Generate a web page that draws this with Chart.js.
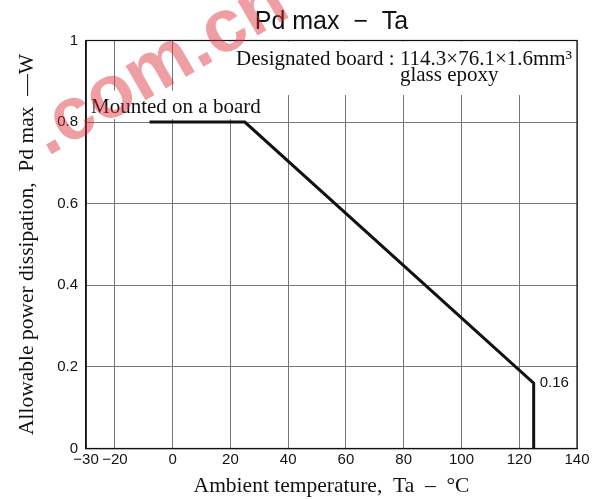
<!DOCTYPE html>
<html>
<head>
<meta charset="utf-8">
<script src="https://cdn.jsdelivr.net/npm/chart.js@4.4.0/dist/chart.umd.min.js"></script>
<style>
html, body { margin: 0; padding: 0; background: #fff; }
</style>
</head>
<body>
<canvas id="chartPd" width="604" height="499"></canvas>
<script>
// derating curve
var temps = [-8, 25, 125, 125];
var powerMax = [0.8, 0.8, 0.16, 0];
var xTicks = [-30, -20, 0, 20, 40, 60, 80, 100, 120, 140];
var yTicks = [0, 0.2, 0.4, 0.6, 0.8, 1];
var endLabel = '0.16';

var titleText = 'Pd max  \u2212  Ta';
var xTitle = 'Ambient temperature,  Ta  \u2013  \u00b0C';
var yTitle = 'Allowable power dissipation,  Pd max  \u2014W';
var boardText = 'Designated board : 114.3\u00d776.1\u00d71.6mm\u00b3';
var boardDims = '114.3\u00d776.1\u00d71.6mm\u00b3';
var boardMat = 'glass epoxy';
var mountText = 'Mounted on a board';
var markText = '.com.cn';

var sans = "'Liberation Sans', Arial, sans-serif";
var serif = "'Liberation Serif', 'Times New Roman', serif";

var notes = {
    id: 'notes',
    beforeDatasetsDraw: function(chart) {
        var ctx = chart.ctx;
        var a = chart.chartArea;
        var ys = chart.scales.y;
        var y08 = ys.getPixelForValue(0.8);
        ctx.save();
        ctx.font = '21px ' + serif;
        var boardW = ctx.measureText(boardText).width;
        var mountW = ctx.measureText(mountText).width;
        // white boxes behind the notes hide the grid
        ctx.fillStyle = '#fff';
        ctx.fillRect(a.right - boardW - 13, a.top + 1, boardW + 12, 53.5);
        ctx.fillRect(a.left + 1, y08 - 31.5, mountW + 12, 28.5);
        ctx.strokeStyle = '#111';
        ctx.lineWidth = 1.2;
        ctx.strokeRect(a.left, a.top, a.right - a.left, a.bottom - a.top);
        ctx.fillStyle = '#111';
        ctx.textBaseline = 'alphabetic';
        ctx.textAlign = 'right';
        ctx.fillText(boardText, a.right - 5, a.top + 24);
        var dimW = ctx.measureText(boardDims).width;
        ctx.textAlign = 'left';
        ctx.fillText(boardMat, a.right - 5 - dimW, a.top + 40);
        ctx.fillText(mountText, a.left + 5, y08 - 9);
        ctx.restore();
    },
    afterDatasetsDraw: function(chart) {
        var ctx = chart.ctx;
        var a = chart.chartArea;
        var xs = chart.scales.x, ys = chart.scales.y;
        var n = temps.length - 2;
        ctx.save();
        ctx.font = '15px ' + sans;
        ctx.fillStyle = '#111';
        ctx.textAlign = 'left';
        ctx.textBaseline = 'middle';
        ctx.fillText(endLabel, xs.getPixelForValue(temps[n]) + 6, ys.getPixelForValue(powerMax[n]));
        // title, centred over the plot area
        ctx.font = '25px ' + sans;
        ctx.textAlign = 'center';
        ctx.fillText(titleText, (a.left + a.right) / 2, 22);
        ctx.restore();
    },
    afterDraw: function(chart) {
        // red site watermark over the top left
        var ctx = chart.ctx;
        ctx.save();
        ctx.translate(170, 86);
        ctx.rotate(-Math.PI / 6);
        ctx.font = 'bold 75px ' + sans;
        ctx.fillStyle = 'rgba(220, 40, 50, 0.45)';
        ctx.textAlign = 'center';
        ctx.textBaseline = 'alphabetic';
        ctx.fillText(markText, 0, 0);
        ctx.restore();
    }
};

var points = [];
for (var i = 0; i < temps.length; i++) {
    points.push({ x: temps[i], y: powerMax[i] });
}

var ctx = document.getElementById('chartPd');
var chart = new Chart(ctx, {
    type: 'line',
    data: {
        datasets: [{
            data: points,
            borderColor: '#111',
            borderWidth: 3,
            pointRadius: 0,
            tension: 0,
            fill: false
        }]
    },
    options: {
        responsive: false,
        animation: false,
        devicePixelRatio: 1,
        layout: { padding: { left: 0, right: 27, top: 40.5, bottom: 0 } },
        plugins: {
            legend: { display: false },
            tooltip: { enabled: false },
            title: { display: false }
        },
        scales: {
            x: {
                type: 'linear',
                min: -30,
                max: 140,
                afterBuildTicks: function(s) {
                    s.ticks = xTicks.map(function(v) { return { value: v }; });
                },
                afterFit: function(s) { s.height = 50.5; },
                grid: { color: '#777', lineWidth: 1, drawTicks: false },
                border: { color: '#111', width: 1.2 },
                ticks: {
                    autoSkip: false,
                    maxRotation: 0,
                    padding: 2,
                    color: '#111',
                    font: { family: sans, size: 15 },
                    callback: function(v) { return String(v).replace('-', '\u2212'); }
                },
                title: {
                    display: true,
                    text: xTitle,
                    color: '#111',
                    font: { family: serif, size: 21.5 },
                    padding: { top: 0, bottom: 0 }
                }
            },
            y: {
                min: 0,
                max: 1,
                afterBuildTicks: function(s) {
                    s.ticks = yTicks.map(function(v) { return { value: v }; });
                },
                afterFit: function(s) { s.width = 86; },
                grid: { color: '#777', lineWidth: 1, drawTicks: false },
                border: { color: '#111', width: 1.2 },
                ticks: {
                    padding: 8,
                    color: '#111',
                    font: { family: sans, size: 15 },
                    callback: function(v) { return (v === 0 || v === 1) ? String(v) : v.toFixed(1); }
                },
                title: {
                    display: true,
                    text: yTitle,
                    color: '#111',
                    font: { family: serif, size: 21.5 },
                    padding: { top: 14, bottom: 0 }
                }
            }
        }
    },
    plugins: [notes]
});
</script>
</body>
</html>
